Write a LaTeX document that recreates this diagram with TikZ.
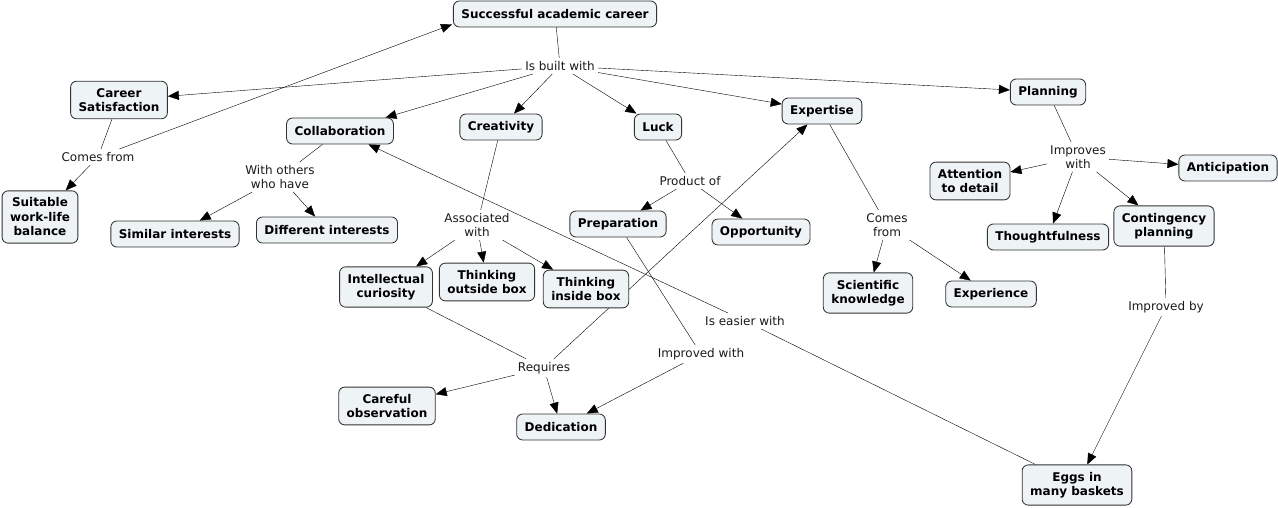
\documentclass[tikz,border=0pt]{standalone}
\usepackage{fontspec}
\setmainfont{DejaVu Sans}
\usetikzlibrary{arrows.meta,backgrounds}
\definecolor{conceptfill}{HTML}{EEF3F5}
\tikzset{
  concept/.style={draw=black!80,fill=conceptfill,rounded corners=6pt,align=center,
    font=\fontsize{12}{14.5}\selectfont\bfseries,inner xsep=8pt,inner ysep=7pt,minimum height=26pt},
  phrase/.style={align=center,font=\fontsize{12}{14}\selectfont,text=black!90,inner sep=3pt},
  link/.style={-{Triangle[length=11pt,width=9pt]}}
}
\begin{document}
\begin{tikzpicture}[x=1pt,y=-1pt,line width=0.85pt]
\useasboundingbox (0,0) rectangle (1278,508);
\node[concept] (sac) at (555,14) {Successful academic career};
\node[concept] (cs) at (119,100) {Career\\Satisfaction};
\node[concept] (wlb) at (40,217) {Suitable\\work-life\\balance};
\node[concept] (col) at (340,131) {Collaboration};
\node[concept] (cre) at (501,127) {Creativity};
\node[concept] (luck) at (658,127) {Luck};
\node[concept] (exp) at (822,111) {Expertise};
\node[concept] (plan) at (1048,92) {Planning};
\node[concept] (att) at (970,181) {Attention\\to detail};
\node[concept] (ant) at (1228,168) {Anticipation};
\node[concept] (tho) at (1048,237) {Thoughtfulness};
\node[concept] (cont) at (1164,226) {Contingency\\planning};
\node[concept] (sim) at (175,234) {Similar interests};
\node[concept] (dif) at (327,230) {Different interests};
\node[concept] (prep) at (618,224) {Preparation};
\node[concept] (opp) at (761,232) {Opportunity};
\node[concept] (ic) at (386,287) {Intellectual\\curiosity};
\node[concept] (tob) at (487,282) {Thinking\\outside box};
\node[concept] (tib) at (586,289) {Thinking\\inside box};
\node[concept] (sk) at (868,293) {Scientific\\knowledge};
\node[concept] (expc) at (991,294) {Experience};
\node[concept] (obs) at (387,406) {Careful\\observation};
\node[concept] (ded) at (561,427) {Dedication};
\node[concept] (eggs) at (1077,485) {Eggs in\\many baskets};
\node[phrase] (built) at (560,66) {Is built with};
\node[phrase] (cf1) at (98,157) {Comes from};
\node[phrase] (wo) at (280,177) {With others\\who have};
\node[phrase] (assoc) at (477,225) {Associated\\with};
\node[phrase] (prod) at (690,181) {Product of};
\node[phrase] (cf2) at (887,225) {Comes\\from};
\node[phrase] (impw) at (1078,157) {Improves\\with};
\node[phrase] (impby) at (1166,307) {Improved by};
\node[phrase] (req) at (544,368) {Requires};
\node[phrase] (impwith) at (701,354) {Improved with};
\node[phrase] (easier) at (745,321) {Is easier with};
\begin{pgfonlayer}{background}
\draw (sac) -- (built);
\foreach \t in {cs,col,cre,luck,exp,plan} \draw[link] (built) -- (\t);
\draw (cs) -- (cf1);
\draw[link] (cf1) -- (wlb);
\draw[link] (cf1) -- ([xshift=-1pt,yshift=3pt]sac.south west);
\draw (col) -- (wo);
\draw[link] (wo) -- (sim);
\draw[link] (wo) -- (dif);
\draw (cre) -- (assoc);
\foreach \t in {ic,tob,tib} \draw[link] (assoc) -- (\t);
\draw (luck) -- (prod);
\draw[link] (prod) -- (prep);
\draw[link] (prod) -- (opp);
\draw (exp) -- (cf2);
\draw[link] (cf2) -- (sk);
\draw[link] (cf2) -- (expc);
\draw (plan) -- (impw);
\foreach \t in {att,ant,tho,cont} \draw[link] (impw) -- (\t);
\draw (cont) -- (impby);
\draw[link] (impby) -- (eggs);
\draw (ic) -- (req);
\draw[link] (req) -- (obs);
\draw[link] (req) -- (ded);
\draw[link] (req) -- (exp);
\draw (prep) -- (impwith);
\draw[link] (impwith) -- (ded);
\draw (eggs) -- (easier);
\draw[link] (easier) -- (col);
\end{pgfonlayer}
\end{tikzpicture}
\end{document}
